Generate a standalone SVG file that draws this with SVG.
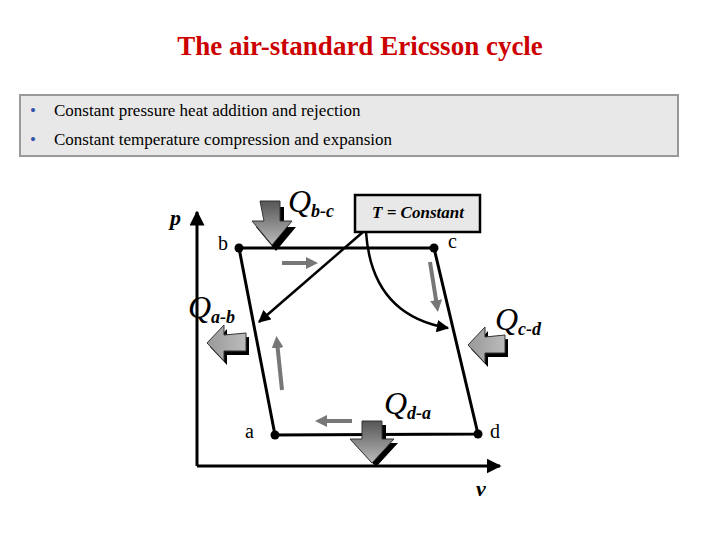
<svg xmlns="http://www.w3.org/2000/svg" width="720" height="540" viewBox="0 0 720 540">
<defs>
<marker id="ah" viewBox="0 0 10 10" refX="9" refY="5" markerWidth="5" markerHeight="5" orient="auto"><path d="M0,0L10,5L0,10z" fill="#000"/></marker>
<marker id="gh" viewBox="0 0 10 10" refX="5" refY="5" markerWidth="3" markerHeight="3" orient="auto"><path d="M0,0L10,5L0,10z" fill="#777"/></marker>
<linearGradient id="gd" x1="0" y1="0" x2="0" y2="1"><stop offset="0" stop-color="#555"/><stop offset="1" stop-color="#bbb"/></linearGradient>
<linearGradient id="gl" x1="0" y1="0" x2="1" y2="0"><stop offset="0" stop-color="#999"/><stop offset="1" stop-color="#bbb"/></linearGradient>
</defs>
<style>
.t{font-family:"Liberation Serif",serif}
.q{font-family:"Liberation Serif",serif;font-style:italic;font-size:32px}
.s{font-size:18px;font-weight:bold}
.pt{font-family:"Liberation Serif",serif;font-size:20px}
.g{stroke:#777;stroke-width:4;fill:none;marker-end:url(#gh)}
.cy{stroke:#000;stroke-width:3;fill:none}
</style>
<text class="t" x="360" y="55" text-anchor="middle" font-size="27" font-weight="bold" fill="#cc0000">The air-standard Ericsson cycle</text>
<rect x="20" y="95" width="658" height="61" fill="#e8e8e8" stroke="#999" stroke-width="2"/>
<g class="t" font-size="17">
<text x="30" y="116" fill="#3355aa">•</text><text x="54" y="116">Constant pressure heat addition and rejection</text>
<text x="30" y="145" fill="#3355aa">•</text><text x="54" y="145">Constant temperature compression and expansion</text>
</g>
<g id="axes">
<line x1="197" y1="466" x2="197" y2="212" stroke="#000" stroke-width="3" marker-end="url(#ah)"/>
<line x1="197" y1="466" x2="500" y2="466" stroke="#000" stroke-width="3" marker-end="url(#ah)"/>
<text class="t" x="170" y="225" font-size="22" font-style="italic" font-weight="bold">p</text>
<text class="t" x="476" y="496" font-size="22" font-style="italic" font-weight="bold">v</text>
</g>
<g id="connectors">
<path class="cy" d="M239,248L434,248L478,434L275,435Z"/>
<line x1="363" y1="232" x2="259" y2="322" stroke="#000" stroke-width="2.5" marker-end="url(#ah)"/>
<path d="M366,232C370,290 400,320 448,328" stroke="#000" stroke-width="2.5" fill="none" marker-end="url(#ah)"/>
<line class="g" x1="282" y1="263" x2="312" y2="263"/>
<line class="g" x1="430" y1="262" x2="437" y2="306"/>
<line class="g" x1="282" y1="390" x2="277" y2="342"/>
<line class="g" x1="352" y1="421" x2="321" y2="421"/>
</g>
<g id="points">
<circle cx="239" cy="248" r="4.5"/><circle cx="434" cy="248" r="4.5"/>
<circle cx="478" cy="434" r="4.5"/><circle cx="275" cy="435" r="4.5"/>
<text class="pt" x="218" y="250">b</text><text class="pt" x="448" y="248">c</text>
<text class="pt" x="245" y="438">a</text><text class="pt" x="490" y="438">d</text>
</g>
<g id="tconst">
<rect x="355" y="195" width="125" height="37" fill="#e8e8e8" stroke="#000" stroke-width="2.5"/>
<text class="t" x="418" y="218" text-anchor="middle" font-size="17" font-weight="bold" font-style="italic">T = Constant</text>
</g>
<g id="qbc">
<path d="M260,204h20v20h12l-20,24l-20,-24h12z" fill="#000" transform="translate(4,3)"/>
<path d="M260,201h20v20h12l-20,24l-20,-24h12z" fill="url(#gd)" stroke="#333"/>
<text class="q" x="288" y="212">Q<tspan class="s" dy="5">b-c</tspan></text>
</g>
<g id="qab">
<path d="M246,332v18h-22v10l-17,-18l17,-18v10z" fill="#000" transform="translate(3,5)"/>
<path d="M246,333v18h-22v10l-17,-18l17,-18v10z" fill="url(#gl)" stroke="#333"/>
<text class="q" x="188" y="318">Q<tspan class="s" dy="5">a-b</tspan></text>
</g>
<g id="qcd">
<path d="M505,334v18h-20v10l-17,-18l17,-18v10z" fill="#000" transform="translate(3,5)"/>
<path d="M505,335v18h-20v10l-17,-18l17,-18v10z" fill="url(#gl)" stroke="#333"/>
<text class="q" x="495" y="330">Q<tspan class="s" dy="5">c-d</tspan></text>
</g>
<g id="qda">
<path d="M362,422h20v18h12l-22,24l-22,-24h12z" fill="#000" transform="translate(4,3)"/>
<path d="M362,421h20v18h12l-22,24l-22,-24h12z" fill="url(#gd)" stroke="#333"/>
<text class="q" x="384" y="414">Q<tspan class="s" dy="5">d-a</tspan></text>
</g>
</svg>
